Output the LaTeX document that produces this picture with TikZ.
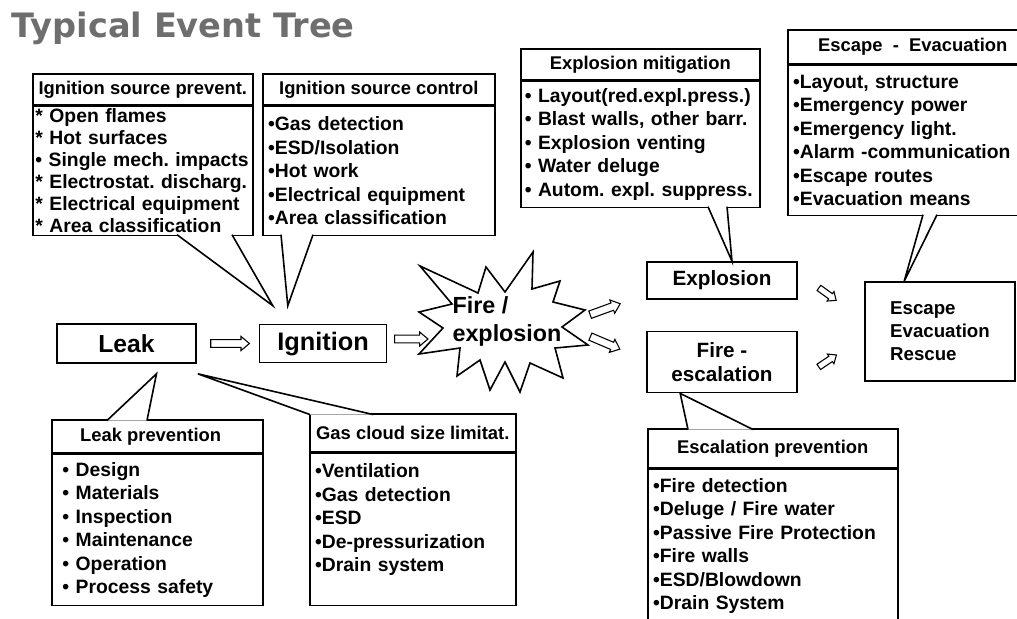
\documentclass[tikz,border=0pt]{standalone}
\usepackage{fontspec}
\setmainfont{Liberation Sans}
\newfontfamily\titlefont{DejaVu Sans}
\usetikzlibrary{shapes,arrows,positioning,calc}
\definecolor{titlegray}{RGB}{110,110,110}
\newcommand{\hdfont}{\fontsize{13.8}{16}\selectfont\bfseries}
\newcommand{\itemfont}{\fontsize{14.5}{17.6}\selectfont\bfseries}
\newcommand{\calltail}[3]{\fill[white] #1 -- #2 -- #3 -- cycle; \draw #1 -- #2 -- #3;}
\tikzstyle{head} = [draw, rectangle, anchor=north west, inner sep=0pt, font=\hdfont]
\tikzstyle{items} = [draw, rectangle, anchor=north west, align=left,
    inner xsep=4pt, inner ysep=0pt, font=\itemfont]
\tikzstyle{block} = [draw, rectangle, inner sep=0pt]
\tikzstyle{fat} = [draw, fill=white, single arrow, inner xsep=0pt, inner ysep=2.5pt, line width=0.8pt,
    single arrow head extend=2.4pt, single arrow head indent=0pt, single arrow tip angle=80]

\begin{document}
\frenchspacing
\begin{tikzpicture}[x=0.75pt, y=-0.75pt, line width=1.2pt]
    \useasboundingbox (0,0) rectangle (1017,618);
    \node[anchor=base west, inner sep=0pt, text=titlegray,
        font=\titlefont\bfseries\fontsize{25.2}{28}\selectfont] (title) at (11,37) {Typical Event Tree};

    % the chain of events
    \node [block, minimum width=104.25pt, minimum height=29.25pt,
        font=\fontsize{18.5}{20}\selectfont\bfseries] (leak) at (126.5,343.5) {Leak};
    \node [block, right=46.5pt of leak, minimum width=95.25pt, minimum height=28.5pt,
        font=\fontsize{19}{20}\selectfont\bfseries] (ign) {Ignition};
    \node [block, minimum width=112.5pt, minimum height=27.75pt,
        font=\fontsize{15.5}{18}\selectfont\bfseries] (expl) at (722,280.5) {Explosion};
    \node [block, below=23.25pt of expl, minimum width=112.5pt, minimum height=45.75pt,
        align=center, font=\fontsize{15.5}{18}\selectfont\bfseries] (fire) {Fire -\\escalation};
    \node [block, minimum width=112.5pt, minimum height=74.25pt, align=left,
        font=\fontsize{14}{17.25}\selectfont\bfseries] (escape) at (940,331.5) {Escape\\Evacuation\\Rescue};

    % the burst
    \draw[fill=white] (533,252) -- (532,289) -- (560,281) -- (553,302) -- (585,310)
        -- (562,327) -- (588,345) -- (555,348) -- (563,378) -- (530,363) -- (520,392)
        -- (505,362) -- (490,390) -- (480,360) -- (457,376) -- (460,348) -- (419,354)
        -- (443,328) -- (419,312) -- (452,304) -- (420,266) -- (478,293) -- (486,267)
        -- (505,292) -- cycle;
    \node[align=left, inner sep=0pt, font=\fontsize{17.5}{21}\selectfont\bfseries] (fx) at (507,321) {Fire /\\explosion};

    % hollow arrows
    \node[fat, minimum height=29pt] (a1) at ($(leak.east)!0.5!(ign.west)$) {};
    \node[fat, minimum height=25pt] (a2) at (409,339) {};
    \node[fat, minimum height=24pt, rotate=20] (a3) at (603,310) {};
    \node[fat, minimum height=24pt, rotate=-23] (a4) at (603,342) {};
    \node[fat, minimum height=16pt, inner ysep=2pt, single arrow head extend=2pt, rotate=-36] (a5) at (826,293) {};
    \node[fat, minimum height=16pt, inner ysep=2pt, single arrow head extend=2pt, rotate=34] (a6) at (826,362) {};

    % barrier boxes
    \node[head, minimum width=165pt, minimum height=23.25pt] (isph) at (32,73) {Ignition source prevent.};
    \node[items, text width=161pt, inner xsep=2pt, minimum height=96.75pt,
        font=\fontsize{14.5}{16.5}\selectfont\bfseries] (ispb) at (isph.south west)
        {{*} Open flames\\{*} Hot surfaces\\• Single mech. impacts\\{*} Electrostat. discharg.\\{*} Electrical equipment\\{*} Area classification};
    \node[head, minimum width=174pt, minimum height=23.25pt] (isch) at (262,73) {Ignition source control};
    \node[items, text width=166pt, minimum height=96.75pt] (iscb) at (isch.south west)
        {•Gas detection\\•ESD/Isolation\\•Hot work\\•Electrical equipment\\•Area classification};
    \node[head, minimum width=179.25pt, minimum height=23.25pt] (emh) at (520,48) {Explosion mitigation};
    \node[items, text width=173.25pt, inner xsep=3pt, minimum height=94.5pt] (emb) at (emh.south west)
        {• Layout(red.expl.press.)\\• Blast walls, other barr.\\• Explosion venting\\• Water deluge\\• Autom. expl. suppress.};
    \node[head, minimum width=187.5pt, minimum height=25.5pt] (esch) at (787,29) {Escape\ \ -\ \ Evacuation};
    \node[items, text width=179.5pt, minimum height=112.5pt] (escb) at (esch.south west)
        {•Layout, structure\\•Emergency power\\•Emergency light.\\•Alarm -communication\\•Escape routes\\•Evacuation means};
    \node[head, minimum width=158.25pt, minimum height=24.75pt] (lph) at (51,419) {Leak prevention\hspace*{10pt}};
    \node[items, text width=142.25pt, inner xsep=8pt, minimum height=113.25pt] (lpb) at (lph.south west)
        {• Design\\• Materials\\• Inspection\\• Maintenance\\• Operation\\• Process safety};
    \node[head, minimum width=154.5pt, minimum height=28.5pt] (gch) at (309,413) {Gas cloud size limitat.};
    \node[items, text width=146.5pt, minimum height=114pt] (gcb) at (gch.south west)
        {•Ventilation\\•Gas detection\\•ESD\\•De-pressurization\\•Drain system\\\mbox{}};
    \node[head, minimum width=187.5pt, minimum height=29.25pt] (eph) at (647,428) {Escalation prevention};
    \node[items, text width=179.5pt, minimum height=114.75pt] (epb) at (eph.south west)
        {•Fire detection\\•Deluge / Fire water\\•Passive Fire Protection\\•Fire walls\\•ESD/Blowdown\\•Drain System};

    % callout tails
    \calltail{($(ispb.south west)+(145,-1.5)$)}{($(ign.north west)+(14,-18)$)}{($(ispb.south west)+(200,-1.5)$)}
    \calltail{($(iscb.south west)+(19,-1.5)$)}{($(ign.north west)+(29,-18)$)}{($(iscb.south west)+(51,-1.5)$)}
    \calltail{($(emb.south west)+(188,-1.5)$)}{($(expl.north)+(10,0)$)}{($(emb.south west)+(207,-1.5)$)}
    \calltail{($(escb.south west)+(136,-1.5)$)}{($(escape.north west)+(40,0)$)}{($(escb.south west)+(150,-1.5)$)}
    \calltail{($(lph.north west)+(56,1.5)$)}{($(leak.south)+(30,10)$)}{($(lph.north west)+(96,1.5)$)}
    \calltail{($(gch.north west)+(0.8,1.5)$)}{($(leak.south east)+(1,10)$)}{($(gch.north west)+(64,1.5)$)}
    \calltail{($(eph.north west)+(41,1.5)$)}{($(fire.south west)+(34,0)$)}{($(eph.north west)+(106,1.5)$)}
\end{tikzpicture}
\end{document}
